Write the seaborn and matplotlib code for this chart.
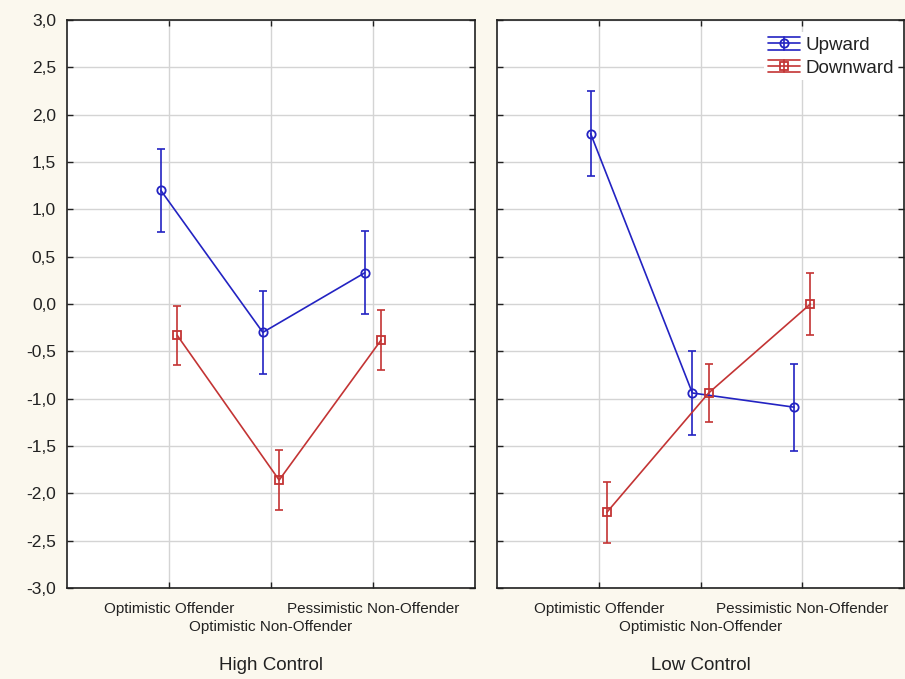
import matplotlib
matplotlib.use("Agg")
import matplotlib.pyplot as plt
import seaborn as sns
import numpy as np
import pandas as pd
from matplotlib.legend_handler import HandlerBase
from matplotlib.lines import Line2D

# ---- data ----
categories = ['Optimistic Offender', 'Optimistic Non-Offender', 'Pessimistic Non-Offender']
panels = ['High Control', 'Low Control']
series = ['Upward', 'Downward']

high_up = [1.20, -0.30, 0.33]
high_up_err = [0.44, 0.44, 0.44]
high_down = [-0.33, -1.86, -0.38]
high_down_err = [0.31, 0.32, 0.32]

low_up = [1.80, -0.94, -1.09]
low_up_err = [0.45, 0.44, 0.46]
low_down = [-2.20, -0.94, 0.00]
low_down_err = [0.32, 0.31, 0.33]

yticks = [-3.0, -2.5, -2.0, -1.5, -1.0, -0.5, 0.0, 0.5, 1.0, 1.5, 2.0, 2.5, 3.0]
ytick_labels = [f"{v:.1f}".replace('.', ',') for v in yticks]

values = {('High Control', 'Upward'): (high_up, high_up_err),
          ('High Control', 'Downward'): (high_down, high_down_err),
          ('Low Control', 'Upward'): (low_up, low_up_err),
          ('Low Control', 'Downward'): (low_down, low_down_err)}

rows = []
for (p, s), (v, e) in values.items():
    for i, c in enumerate(categories):
        rows.append(dict(panel=p, series=s, cat=i, value=v[i], err=e[i]))
df = pd.DataFrame(rows)

# ---- style ----
sns.set_style("white")
plt.rcParams['font.family'] = ['Liberation Sans', 'DejaVu Sans']
bg = '#fbf8ee'
text_c = '#222222'
colors = {'Upward': '#2323c2', 'Downward': '#c33434'}
markers = {'Upward': 'o', 'Downward': 's'}
msize = {'Upward': 6, 'Downward': 5.5}
offsets = {'Upward': -0.08, 'Downward': 0.08}


class ErrLegendHandler(HandlerBase):
    """Legend key: horizontal line with marker, caps spanning the key, short vertical bar."""
    def create_artists(self, legend, orig, xdescent, ydescent, width, height, fontsize, trans):
        c = orig.get_color()
        cy = height / 2 - ydescent
        x0, x1 = -xdescent, width - xdescent
        dy = height * 0.42
        arts = []
        for yy in (cy - dy, cy, cy + dy):
            arts.append(Line2D([x0, x1], [yy, yy], color=c, lw=1.2, transform=trans))
        xm = (x0 + x1) / 2
        arts.append(Line2D([xm, xm], [cy - dy, cy + dy], color=c, lw=1.2, transform=trans))
        arts.append(Line2D([xm], [cy], marker=orig.get_marker(), markersize=orig.get_markersize(),
                           mfc='none', mec=c, mew=1.3, lw=0, transform=trans))
        return arts


fig = plt.figure(figsize=(9.05, 6.79), dpi=100, facecolor=bg)
ax_l = fig.add_axes([67/905, 91/679, 408/905, 568/679])
ax_r = fig.add_axes([497/905, 91/679, 407/905, 568/679])

legend_handles = []
for ax, p in zip([ax_l, ax_r], panels):
    ax.set_facecolor('white')
    for s in series:
        sub = df[(df.panel == p) & (df.series == s)].copy()
        sub['x'] = sub['cat'] + offsets[s]
        sns.lineplot(data=sub, x='x', y='value', ax=ax, color=colors[s],
                     marker=markers[s], markersize=msize[s], mfc='none',
                     mec=colors[s], mew=1.3, lw=1.2, legend=False,
                     errorbar=None, sort=False, zorder=3)
        ax.errorbar(sub['x'], sub['value'], yerr=sub['err'], fmt='none',
                    ecolor=colors[s], elinewidth=1.2, capsize=3,
                    capthick=1.2, zorder=2)
        if p == 'Low Control':
            h_line = Line2D([], [], color=colors[s], marker=markers[s],
                            markersize=msize[s], mfc='none', mec=colors[s],
                            mew=1.3, lw=1.2)
            legend_handles.append((h_line, s))

    ax.set_xlim(-1, 3)
    ax.set_ylim(-3, 3)
    ax.set_yticks(yticks)
    # staggered category labels: outer ones as major ticks, middle one as minor tick
    ax.set_xticks([0, 2])
    ax.set_xticklabels([categories[0], categories[2]], fontsize=11, color=text_c)
    ax.set_xticks([1], minor=True)
    ax.set_xticklabels([categories[1]], minor=True, fontsize=11, color=text_c)
    ax.grid(True, which='both', axis='x', color='#d4d4d4', lw=1)
    ax.grid(True, which='major', axis='y', color='#d4d4d4', lw=1)
    ax.set_axisbelow(True)
    for sp in ax.spines.values():
        sp.set_color('#202020')
        sp.set_linewidth(1.2)
    ax.tick_params(axis='both', which='both', direction='in', length=4, width=1,
                   colors='#202020', top=True, right=True, left=True, bottom=True,
                   labelcolor=text_c)
    ax.tick_params(axis='x', which='major', pad=10)
    ax.tick_params(axis='x', which='minor', pad=23)
    ax.set_xlabel(p, fontsize=13.5, color=text_c, va='center')
    ax.xaxis.set_label_coords(0.5, -0.1356)
    ax.set_ylabel('')

ax_l.set_yticklabels(ytick_labels, fontsize=12.5)
ax_l.tick_params(axis='y', pad=8)
ax_r.set_yticklabels([])

leg = ax_r.legend([h for h, _ in legend_handles], [l for _, l in legend_handles],
                  handler_map={Line2D: ErrLegendHandler()},
                  loc='upper right', bbox_to_anchor=(0.995, 0.985),
                  frameon=True, fontsize=13.5, handlelength=1.75, handleheight=0.85,
                  handletextpad=0.3, labelspacing=0.25, borderpad=0.2,
                  borderaxespad=0.2)
leg.get_frame().set_facecolor('white')
leg.get_frame().set_edgecolor('none')
leg.get_frame().set_alpha(1)
for t in leg.get_texts():
    t.set_color(text_c)

fig.savefig('out.png', dpi=100, facecolor=bg)
